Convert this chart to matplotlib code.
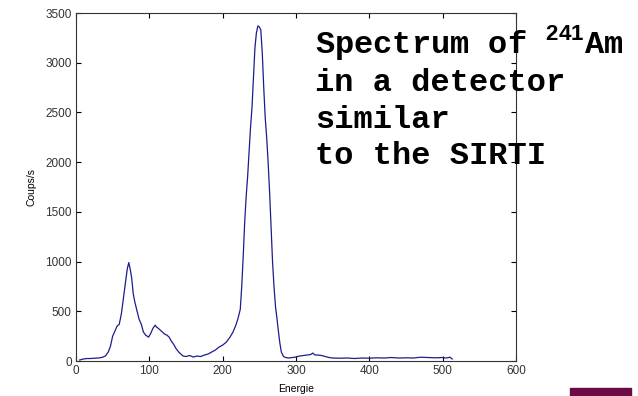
import matplotlib.pyplot as plt
import matplotlib.patches as patches

# spectre (energie, coups/s)
energie = [5, 10, 15, 20, 25, 30, 35, 40, 44, 47, 50, 53, 56, 59, 62, 65, 68, 70,
           72, 74, 76, 78, 80, 83, 86, 89, 92, 95, 99, 102, 105, 108, 110, 112,
           115, 118, 121, 124, 127, 130, 133, 136, 140, 143, 146, 150, 155, 160,
           165, 170, 175, 180, 185, 190, 195, 200, 205, 210, 214, 218, 221, 224,
           226, 228, 230, 232, 234, 236, 238, 240, 242, 244, 246, 248, 250, 252,
           254, 256, 258, 260, 262, 264, 266, 268, 270, 272, 274, 276, 278, 280,
           283, 286, 290, 295, 300, 305, 310, 315, 320, 323, 326, 330, 335, 340,
           345, 350, 360, 370, 380, 390, 400, 410, 420, 430, 440, 450, 460, 470,
           480, 490, 500, 505, 510, 513]
coups = [10, 20, 25, 25, 28, 30, 35, 50, 90, 150, 250, 300, 350, 370, 480, 650,
         820, 930, 990, 920, 830, 680, 600, 510, 420, 370, 290, 260, 240, 280,
         330, 360, 340, 330, 310, 290, 270, 260, 240, 200, 170, 130, 90, 70, 50,
         45, 55, 40, 50, 45, 60, 70, 90, 110, 140, 160, 190, 240, 290, 360, 430,
         520, 750, 1050, 1390, 1650, 1850, 2100, 2350, 2550, 2850, 3150, 3300,
         3370, 3360, 3330, 3100, 2750, 2450, 2250, 2000, 1700, 1350, 1000, 750,
         550, 430, 300, 180, 90, 45, 35, 30, 35, 40, 50, 55, 60, 65, 80, 60, 60,
         55, 45, 35, 30, 28, 30, 25, 30, 28, 32, 30, 35, 30, 32, 30, 38, 35, 32,
         35, 30, 38, 20]

xticks = [0, 100, 200, 300, 400, 500, 600]
yticks = [0, 500, 1000, 1500, 2000, 2500, 3000, 3500]

plt.rcParams['font.family'] = ['Liberation Sans', 'DejaVu Sans']
plt.rcParams['mathtext.fontset'] = 'custom'
plt.rcParams['mathtext.rm'] = 'Liberation Sans:bold'

fig = plt.figure(figsize=(6.38, 3.96), dpi=100)
ax = fig.add_axes([76/638, 35/396, 440/638, 348/396])

ax.plot(energie, coups, color='#1c1c8c', lw=0.9)
ax.set_xlim(0, 600)
ax.set_ylim(0, 3500)
ax.set_xticks(xticks)
ax.set_yticks(yticks)
ax.tick_params(direction='in', length=3.5, width=0.8, top=True, right=True,
               labelsize=8.5, labelcolor='#333333', pad=3)
for s in ax.spines.values():
    s.set_linewidth(0.8)
    s.set_color('#333333')
ax.set_xlabel('Energie', fontsize=7.5, labelpad=5)
ax.set_ylabel('Coups/s', fontsize=7.5, labelpad=6)

fig.text(315/638, 1 - 23/396,
         'Spectrum of $^{241}$Am\nin a detector\nsimilar\nto the SIRTI',
         family='Liberation Mono', weight='bold', fontsize=23,
         va='top', ha='left', linespacing=1.28)

fig.patches.append(patches.Rectangle((570/638, 0), 61/638, 8/396,
                                     transform=fig.transFigure,
                                     color='#6b0a45', zorder=5))

fig.savefig('out.png', dpi=100)
